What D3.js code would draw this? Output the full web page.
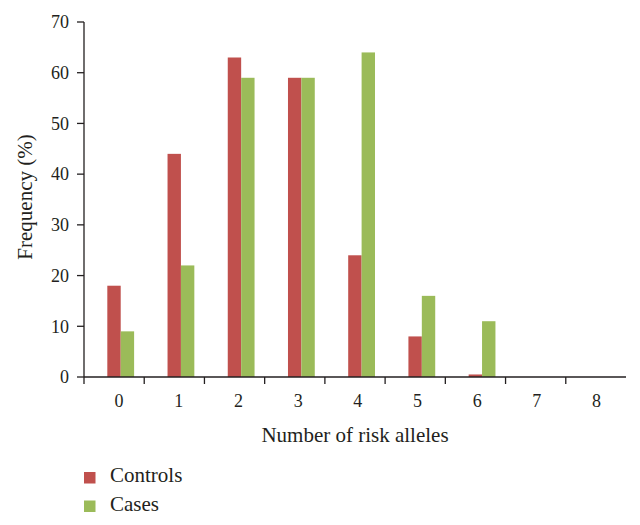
<!DOCTYPE html>
<html><head><meta charset="utf-8">
<script src="https://cdn.jsdelivr.net/npm/d3@7"></script>
<style>body{margin:0;background:#fff}svg{display:block}text{font-family:"Liberation Serif","DejaVu Serif",serif;fill:#231f20}</style>
</head><body><svg id="c" width="640" height="525"></svg>
<script>
const categories = ["0","1","2","3","4","5","6","7","8"];
const controls = [18, 44, 63, 59, 24, 8, 0.5, 0, 0];
const cases = [9, 22, 59, 59, 64, 16, 11, 0, 0];
const yTicks = [0,10,20,30,40,50,60,70];
const seriesNames = ["Controls","Cases"];
const colors = ["#c0504d","#9bbb59"];

(function(){
const svg = d3.select("#c");
const mLeft = 84, mRight = 626, mTop = 22, mBottom = 377;
const x = d3.scaleBand().domain(categories).range([mLeft, mRight]);
const y = d3.scaleLinear().domain([0,70]).range([mBottom, mTop]);
const barW = 13.4, shift = 6.6;

const data = [controls, cases];
data.forEach((vals, si) => {
  svg.append("g").selectAll("rect").data(vals).join("rect")
    .attr("x", (d,i) => x(categories[i]) + x.bandwidth()/2 + shift - barW + si*barW)
    .attr("y", d => y(d))
    .attr("width", barW)
    .attr("height", d => y(0) - y(d))
    .attr("fill", colors[si]);
});

// Y axis
const ya = svg.append("g");
ya.append("line").attr("x1", mLeft).attr("x2", mLeft).attr("y1", y(70)).attr("y2", y(0)).attr("stroke","#231f20").attr("stroke-width",1.3);
ya.selectAll("line.t").data(yTicks).join("line").attr("class","t")
  .attr("x1", mLeft-7).attr("x2", mLeft).attr("y1", d=>y(d)).attr("y2", d=>y(d)).attr("stroke","#231f20").attr("stroke-width",1.3);
ya.selectAll("text").data(yTicks).join("text")
  .attr("x", 69).attr("y", d=>y(d)).attr("dy","0.35em").attr("text-anchor","end")
  .attr("font-size",18).text(d=>d);

// X axis
const xa = svg.append("g");
xa.append("line").attr("x1", mLeft).attr("x2", mRight).attr("y1", mBottom).attr("y2", mBottom).attr("stroke","#231f20").attr("stroke-width",1.3);
xa.selectAll("line.t").data(categories).join("line").attr("class","t")
  .attr("x1", d=>x(d)).attr("x2", d=>x(d)).attr("y1", mBottom).attr("y2", mBottom+7).attr("stroke","#231f20").attr("stroke-width",1.3);
xa.selectAll("text").data(categories).join("text")
  .attr("x", (d,i)=>x(d)+x.bandwidth()/2 + 5 - i*0.55).attr("y", 407).attr("text-anchor","middle")
  .attr("font-size",18).text(d=>d);

svg.append("text").attr("x", 355).attr("y", 442).attr("text-anchor","middle").attr("font-size",21).text("Number of risk alleles");
svg.append("text").attr("transform","translate(32,197) rotate(-90)").attr("text-anchor","middle").attr("font-size",21).text("Frequency (%)");

// Legend
seriesNames.forEach((n, i) => {
  const ly = 472 + i*28.5;
  svg.append("rect").attr("x", 84).attr("y", ly).attr("width", 11.5).attr("height", 11.5).attr("fill", colors[i]);
  svg.append("text").attr("x", 110).attr("y", ly+10).attr("font-size",21).text(n);
});
})();
</script></body></html>
